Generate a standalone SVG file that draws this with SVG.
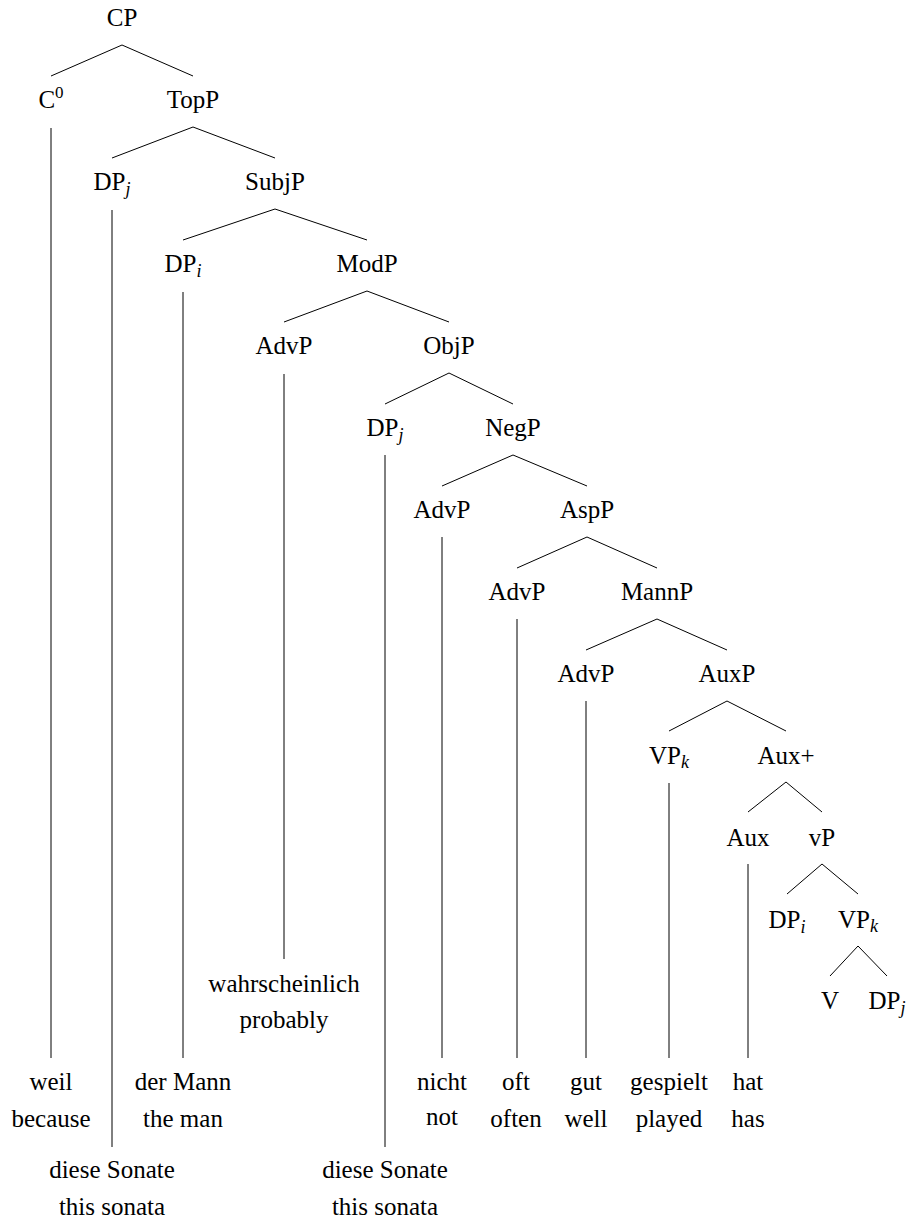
<svg xmlns="http://www.w3.org/2000/svg" width="912" height="1221" viewBox="0 0 912 1221">
<style>
text{font-family:'Liberation Serif','DejaVu Serif',serif;font-size:25px;fill:#000;text-anchor:middle}
.sub{font-size:18px;font-style:italic}
.sup{font-size:17px}
#edges line{stroke:#000;stroke-width:1;fill:none}
</style>
<rect width="912" height="1221" fill="#fff"/>
<g id="edges">
<line x1="122" y1="45" x2="51" y2="76"/><line x1="122" y1="45" x2="193" y2="76"/>
<line x1="51" y1="128" x2="51" y2="1058"/>
<line x1="193" y1="127" x2="112" y2="158"/><line x1="193" y1="127" x2="275" y2="158"/>
<line x1="112" y1="210" x2="112" y2="1147"/>
<line x1="275" y1="209" x2="183" y2="240"/><line x1="275" y1="209" x2="367" y2="240"/>
<line x1="183" y1="292" x2="183" y2="1058"/>
<line x1="367" y1="291" x2="284" y2="322"/><line x1="367" y1="291" x2="449" y2="322"/>
<line x1="284" y1="374" x2="284" y2="959"/>
<line x1="449" y1="373" x2="385" y2="404"/><line x1="449" y1="373" x2="513" y2="404"/>
<line x1="385" y1="455" x2="385" y2="1147"/>
<line x1="513" y1="455" x2="442" y2="486"/><line x1="513" y1="455" x2="587" y2="486"/>
<line x1="442" y1="537" x2="442" y2="1058"/>
<line x1="587" y1="537" x2="517" y2="568"/><line x1="587" y1="537" x2="657" y2="568"/>
<line x1="517" y1="619" x2="517" y2="1058"/>
<line x1="657" y1="619" x2="586" y2="650"/><line x1="657" y1="619" x2="727" y2="650"/>
<line x1="586" y1="701" x2="586" y2="1058"/>
<line x1="727" y1="701" x2="669" y2="731"/><line x1="727" y1="701" x2="786" y2="731"/>
<line x1="669" y1="783" x2="669" y2="1058"/>
<line x1="786" y1="782" x2="748" y2="812"/><line x1="786" y1="782" x2="822" y2="812"/>
<line x1="748" y1="864" x2="748" y2="1058"/>
<line x1="822" y1="864" x2="787" y2="894"/><line x1="822" y1="864" x2="858" y2="894"/>
<line x1="858" y1="946" x2="830" y2="976"/><line x1="858" y1="946" x2="887" y2="976"/>
</g>
<g id="n-CP"><text x="122" y="26">CP</text></g>
<g id="n-C0"><text x="51" y="108">C<tspan class="sup" dy="-10">0</tspan></text></g>
<g id="n-TopP"><text x="193" y="108">TopP</text></g>
<g id="n-DPj1"><text x="112" y="190">DP<tspan class="sub" dy="5">j</tspan></text></g>
<g id="n-SubjP"><text x="275" y="190">SubjP</text></g>
<g id="n-DPi1"><text x="183" y="272">DP<tspan class="sub" dy="5">i</tspan></text></g>
<g id="n-ModP"><text x="367" y="272">ModP</text></g>
<g id="n-AdvP1"><text x="284" y="354">AdvP</text></g>
<g id="n-ObjP"><text x="449" y="354">ObjP</text></g>
<g id="n-DPj2"><text x="385" y="436">DP<tspan class="sub" dy="5">j</tspan></text></g>
<g id="n-NegP"><text x="513" y="436">NegP</text></g>
<g id="n-AdvP2"><text x="442" y="518">AdvP</text></g>
<g id="n-AspP"><text x="587" y="518">AspP</text></g>
<g id="n-AdvP3"><text x="517" y="600">AdvP</text></g>
<g id="n-MannP"><text x="657" y="600">MannP</text></g>
<g id="n-AdvP4"><text x="586" y="682">AdvP</text></g>
<g id="n-AuxP"><text x="727" y="682">AuxP</text></g>
<g id="n-VPk1"><text x="669" y="764">VP<tspan class="sub" dy="4">k</tspan></text></g>
<g id="n-AuxPlus"><text x="786" y="764">Aux+</text></g>
<g id="n-Aux"><text x="748" y="846">Aux</text></g>
<g id="n-vP"><text x="822" y="846">vP</text></g>
<g id="n-DPi2"><text x="787" y="928">DP<tspan class="sub" dy="5">i</tspan></text></g>
<g id="n-VPk2"><text x="858" y="928">VP<tspan class="sub" dy="4">k</tspan></text></g>
<g id="n-V"><text x="830" y="1009">V</text></g>
<g id="n-DPj3"><text x="887" y="1009">DP<tspan class="sub" dy="5">j</tspan></text></g>
<g id="leaf-weil"><text x="51" y="1090">weil</text><text x="51" y="1127">because</text></g>
<g id="leaf-sonate1"><text x="112" y="1178">diese Sonate</text><text x="112" y="1215">this sonata</text></g>
<g id="leaf-mann"><text x="183" y="1090">der Mann</text><text x="183" y="1127">the man</text></g>
<g id="leaf-wahrsch"><text x="284" y="992">wahrscheinlich</text><text x="284" y="1028">probably</text></g>
<g id="leaf-sonate2"><text x="385" y="1178">diese Sonate</text><text x="385" y="1215">this sonata</text></g>
<g id="leaf-nicht"><text x="442" y="1090">nicht</text><text x="442" y="1125">not</text></g>
<g id="leaf-oft"><text x="516" y="1090">oft</text><text x="516" y="1127">often</text></g>
<g id="leaf-gut"><text x="586" y="1090">gut</text><text x="586" y="1127">well</text></g>
<g id="leaf-gespielt"><text x="669" y="1090">gespielt</text><text x="669" y="1127">played</text></g>
<g id="leaf-hat"><text x="748" y="1090">hat</text><text x="748" y="1127">has</text></g>
</svg>
